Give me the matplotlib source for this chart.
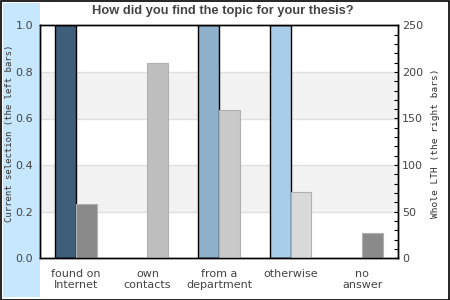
import numpy as np
import matplotlib
matplotlib.use('Agg')
import matplotlib.pyplot as plt
from matplotlib.patches import Rectangle
from matplotlib.ticker import MultipleLocator

categories = ['found on\nInternet', 'own\ncontacts', 'from a\ndepartment', 'otherwise', 'no\nanswer']
current = [1.0, 0.0, 1.0, 1.0, 0.0]          # left bars, share of current selection
whole_lth = [58, 210, 159, 71, 27]           # right bars, whole LTH counts

left_colors = ['#3f5e79', '#3f5e79', '#8fb0cb', '#a9cde8', '#a9cde8']
right_colors = ['#8a8a8a', '#bebebe', '#c9c9c9', '#d9d9d9', '#8a8a8a']

W, H = 450, 300
fig = plt.figure(figsize=(W / 100, H / 100), dpi=100)
fig.patch.set_facecolor('white')

# outer frame and the light blue strip on the left
fig.patches.append(Rectangle((0.5 / W, 0.5 / H), 1 - 1.5 / W, 1 - 1.5 / H, transform=fig.transFigure,
                             facecolor='none', edgecolor='black', linewidth=1.2, zorder=0))
fig.patches.append(Rectangle((3 / W, 3 / H), 37 / W, 294 / H, transform=fig.transFigure,
                             facecolor='#c6e7fd', edgecolor='none', zorder=0))

ax = fig.add_axes([40 / W, 1 - 258.3 / H, 358 / W, 233 / H])
ax.set_facecolor('white')
ax.set_zorder(1)
ax2 = ax.twinx()

x = np.arange(len(categories))
w = 0.29

# background bands and grid lines
for lo, hi in [(0.2, 0.4), (0.6, 0.8)]:
    ax.axhspan(lo, hi, color='#f2f2f2', zorder=0, lw=0)
for y in [0.2, 0.4, 0.6, 0.8]:
    ax.axhline(y, color='#e0e0e0', lw=1, zorder=0.5)

for i in range(len(categories)):
    if current[i] > 0:
        ax.bar(x[i] - w / 2, current[i], w, color=left_colors[i], edgecolor='black', linewidth=1, zorder=2)
    ax2.bar(x[i] + w / 2, whole_lth[i], w, color=right_colors[i], edgecolor='#b0b0b0', linewidth=0.8, zorder=2)

ax.set_xlim(-0.5, len(categories) - 0.5)
ax.set_ylim(0, 1)
ax2.set_ylim(0, 250)

ax.set_yticks(np.arange(0, 1.01, 0.2))
ax.set_yticklabels([f'{v:.1f}' for v in np.arange(0, 1.01, 0.2)])
ax.tick_params(axis='y', length=0, pad=5, labelsize=8, labelcolor='#444444')
ax.set_xticks(x)
ax.set_xticklabels(categories)
ax.tick_params(axis='x', length=0, pad=8, labelsize=8, labelcolor='#444444')
for t in ax.get_xticklabels():
    t.set_linespacing(1.1)

ax2.yaxis.set_major_locator(MultipleLocator(50))
ax2.yaxis.set_minor_locator(MultipleLocator(10))
ax2.tick_params(axis='y', which='both', direction='in', length=3, width=0.8, color='black')
ax2.tick_params(axis='y', which='major', pad=3, labelsize=8, labelcolor='#444444')

for a in (ax, ax2):
    for s in a.spines.values():
        s.set_color('black')
        s.set_linewidth(1)

fig.text(223 / W, 1 - 11 / H, 'How did you find the topic for your thesis?', ha='center', va='center',
         family='Liberation Sans', fontsize=9.3, fontweight='bold', color='#444444')

fig.text(10 / W, 1 - 133 / H, 'Current selection (the left bars)', rotation=90, ha='center', va='center',
         family='DejaVu Sans Mono', fontsize=6.5, color='#333333')
fig.text(435 / W, 1 - 143.5 / H, 'Whole LTH (the right bars)', rotation=90, ha='center', va='center',
         family='DejaVu Sans Mono', fontsize=6.8, color='#333333')

fig.savefig('out.png', dpi=100)
